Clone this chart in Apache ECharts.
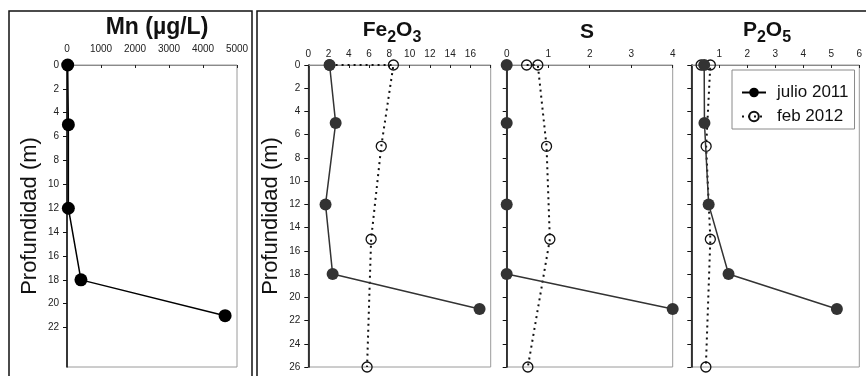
<!DOCTYPE html>
<html>
<head>
<meta charset="utf-8">
<script src="https://cdn.jsdelivr.net/npm/echarts@6/dist/echarts.min.js"></script>
<style>html,body{margin:0;padding:0;background:#fff}#c{width:866px;height:376px}</style>
</head>
<body>
<div id="c"></div>
<script>
// ---- data ----
const depthJulio = [0, 5, 12, 18, 21];
const depthFeb = [0, 0, 7, 15, 26];
const mnJulio = [20, 40, 40, 410, 4650];
const fe2o3Julio = [2.1, 2.7, 1.7, 2.4, 16.9];
const fe2o3Feb = [2.1, 8.4, 7.2, 6.2, 5.8];
const sJulio = [0, 0, 0, 0, 4.0];
const sFeb = [0.48, 0.75, 0.96, 1.04, 0.51];
const p2o5Julio = [0.46, 0.47, 0.62, 1.33, 5.2];
const p2o5Feb = [0.35, 0.68, 0.53, 0.68, 0.52];
const mnTicks = [0, 1000, 2000, 3000, 4000, 5000];
const feTicks = [0, 2, 4, 6, 8, 10, 12, 14, 16];
const sTicks = [0, 1, 2, 3, 4];
const pTicks = [1, 2, 3, 4, 5, 6];
const depthTicksMn = [0, 2, 4, 6, 8, 10, 12, 14, 16, 18, 20, 22];
const seriesNames = ['julio 2011', 'feb 2012'];
const depthLabel = 'Profundidad (m)';

const FONT = 'Liberation Sans, Arial, sans-serif';
const pair = (xs, ys) => xs.map((v, i) => [v, ys[i]]);

const grids = [
  {left: 67, top: 65, width: 170, height: 302},
  {left: 308.3, top: 65, width: 182.4, height: 302},
  {left: 506.7, top: 65, width: 166, height: 302},
  {left: 691.3, top: 65, width: 168, height: 302}
].map(g => Object.assign(g, {show: true, borderColor: '#9a9a9a', borderWidth: 1, backgroundColor: '#fff'}));

function xAx(gi, max, interval, labels, margin) {
  return {
    type: 'value', gridIndex: gi, position: 'top', min: 0, max: max, interval: interval,
    splitLine: {show: false},
    axisLine: {show: true, lineStyle: {color: '#8a8a8a', width: 1}},
    axisTick: {show: true, inside: true, length: 3, lineStyle: {color: '#222'}},
    axisLabel: {customValues: labels, color: '#222', fontSize: 10, fontFamily: FONT, margin: margin,
      formatter: v => String(v)}
  };
}
function yAx(gi, max, showLabels, name, labelVals) {
  const a = {
    type: 'value', gridIndex: gi, inverse: true, min: 0, max: max, interval: 2,
    splitLine: {show: false},
    axisLine: {show: true, onZero: false, lineStyle: {color: '#111', width: 1.6}},
    axisTick: {show: true, inside: false, length: 4, lineStyle: {color: '#111', width: 1}},
    axisLabel: {show: showLabels, color: '#222', fontSize: 10, fontFamily: FONT, margin: 8,
      formatter: v => String(v)}
  };
  if (labelVals) { a.axisLabel.customValues = labelVals; a.axisTick.customValues = labelVals; }
  if (name) {
    Object.assign(a, {name: name, nameLocation: 'middle', nameRotate: 90, nameGap: 26,
      nameTextStyle: {fontSize: 22, color: '#111', fontFamily: FONT}});
  }
  return a;
}

function julio(gi, xs, color, size) {
  return {
    name: seriesNames[0], type: 'line', xAxisIndex: gi, yAxisIndex: gi,
    data: pair(xs, depthJulio), symbol: 'circle', symbolSize: size,
    lineStyle: {color: color, width: 1.5},
    itemStyle: {color: color}, z: 3, animation: false
  };
}
function feb(gi, xs) {
  return {
    name: seriesNames[1], type: 'line', xAxisIndex: gi, yAxisIndex: gi,
    data: pair(xs, depthFeb), symbol: 'circle', symbolSize: 10,
    lineStyle: {color: '#111', width: 2, type: [2, 4]},
    itemStyle: {color: 'rgba(255,255,255,0)', borderColor: '#111', borderWidth: 1.3}, z: 2, animation: false
  };
}

function titleRich(size) {
  return {
    m: {fontSize: size, fontWeight: 'bold', color: '#111', fontFamily: FONT, lineHeight: 32},
    s: {fontSize: 16, fontWeight: 'bold', color: '#111', fontFamily: FONT, lineHeight: 16, verticalAlign: 'bottom'}
  };
}
function title(text, cx, top, size) {
  return {text: text, left: cx, top: top, textAlign: 'center', padding: 0,
    textStyle: {rich: titleRich(size), fontSize: size, fontWeight: 'bold', color: '#111', fontFamily: FONT}};
}

const option = {
  animation: false,
  backgroundColor: '#fff',
  title: [
    title('{m|Mn (µg/L)}', 157, 12, 23),
    title('{m|Fe}{s|2}{m|O}{s|3}', 392, 14, 21),
    title('{m|S}', 587, 16, 21),
    title('{m|P}{s|2}{m|O}{s|5}', 767, 14, 21)
  ],
  graphic: [
    {type: 'rect', shape: {x: 9, y: 11, width: 243, height: 400}, style: {fill: 'none', stroke: '#111', lineWidth: 1.5}, z: 100},
    {type: 'rect', shape: {x: 257, y: 11, width: 640, height: 400}, style: {fill: 'none', stroke: '#111', lineWidth: 1.5}, z: 100}
  ],
  legend: {
    data: seriesNames, orient: 'vertical', left: 732, top: 70,
    backgroundColor: '#fff', borderColor: '#8a8a8a', borderWidth: 1,
    padding: [13, 6, 3, 9], itemGap: 5, itemWidth: 24, itemHeight: 12,
    textStyle: {fontSize: 17, color: '#111', fontFamily: FONT, lineHeight: 19, padding: [0, 0, 0, 6]},
    selectedMode: false, z: 10
  },
  grid: grids,
  xAxis: [
    xAx(0, 5000, 1000, mnTicks, 11),
    xAx(1, 18, 2, feTicks, 6),
    xAx(2, 4, 1, sTicks, 6),
    xAx(3, 6, 1, pTicks, 6)
  ],
  yAxis: [
    yAx(0, 25.3, true, depthLabel, depthTicksMn),
    yAx(1, 26, true, depthLabel),
    yAx(2, 26, false, null),
    yAx(3, 26, false, null)
  ],
  series: [
    julio(0, mnJulio, '#000', 13),
    julio(1, fe2o3Julio, '#333', 12),
    feb(1, fe2o3Feb),
    julio(2, sJulio, '#333', 12),
    feb(2, sFeb),
    julio(3, p2o5Julio, '#333', 12),
    feb(3, p2o5Feb)
  ]
};
const chart = echarts.init(document.getElementById('c'), null, {renderer: 'canvas'});
chart.setOption(option);
</script>
</body>
</html>
